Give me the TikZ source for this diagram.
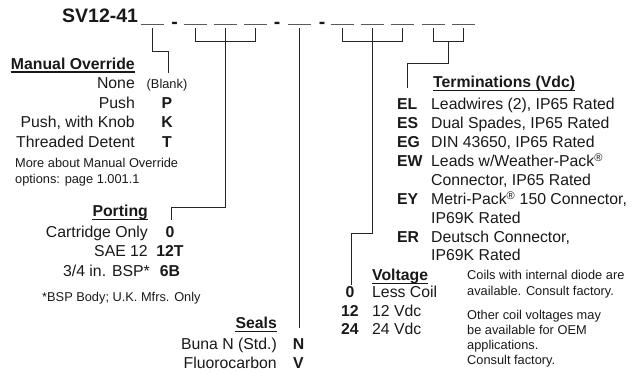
\documentclass[tikz,border=0pt]{standalone}
\usepackage{fontspec}
\setmainfont{Liberation Sans}
\begin{document}
\begin{tikzpicture}[x=1pt,y=-1pt,
  txt/.style={font=\fontsize{15.8}{18}\selectfont, inner sep=0pt, text=black!90},
  bld/.style={font=\bfseries\fontsize{15.8}{18}\selectfont, inner sep=0pt, text=black!90},
  sml/.style={font=\fontsize{12.8}{15}\selectfont, inner sep=0pt, text=black!90},
  ttl/.style={font=\bfseries\fontsize{19.5}{22}\selectfont, inner sep=0pt, text=black!90},
  conn/.style={draw=black!85, line width=1pt},
  blankline/.style={draw=black!65, line width=1pt},
  uline/.style={draw=black!90, line width=1.1pt},
  lft/.style={anchor=base west},
  rgt/.style={anchor=base east},
  ctr/.style={anchor=base}]
\useasboundingbox (0,0) rectangle (633,374);

% --- model code line
\node[ttl,lft] (title) at (62,23) {SV12-41};
\foreach \n/\x in {1/152,2/195,3/225,4/255,5/299,6/342,7/372,8/402,9/433,10/463}{
  \coordinate (b\n) at (\x,25);
  \draw[blankline] ([xshift=-11.5pt]b\n) -- ([xshift=11.5pt]b\n);
}
\node[ttl,ctr] (d1) at (174.5,29) {-};
\node[ttl,ctr] (d2) at (277,29) {-};
\node[ttl,ctr] (d3) at (322,29) {-};

% --- Manual Override
\node[bld,rgt] (mo) at (135,69.5) {Manual Override};
\draw[uline] ([yshift=-2.5pt]mo.base west) -- ([yshift=-2.5pt]mo.base east);
\node[txt,rgt] (mo1) at (135,89) {None};
\node[sml,ctr] (mo1c) at (167,89) {(Blank)};
\node[txt,rgt] (mo2) at (135,108.5) {Push};
\node[bld,ctr] (mo2c) at (167,108.5) {P};
\node[txt,rgt] (mo3) at (135,128) {Push, with Knob};
\node[bld,ctr] (mo3c) at (167,128) {K};
\node[txt,rgt] (mo4) at (135,147.5) {Threaded Detent};
\node[bld,ctr] (mo4c) at (167,147.5) {T};
\node[sml,lft] (mon1) at (15,168) {More about Manual Override};
\node[sml,lft] (mon2) at (15,183.5) {options: page 1.001.1};

\coordinate (mo-knee) at (152,52);
\coordinate (mo-end) at (168,73);
\draw[conn] ([yshift=-3pt]b1) -- (mo-knee) -| (mo-end);

% --- Porting
\node[bld,rgt] (po) at (148,217) {Porting};
\draw[uline] ([yshift=-2.5pt]po.base west) -- ([yshift=-2.5pt]po.base east);
\node[txt,rgt] (po1) at (148,237.5) {Cartridge Only};
\node[bld,ctr] (po1c) at (170,237.5) {0};
\node[txt,rgt] (po2) at (148,257) {SAE 12};
\node[bld,ctr] (po2c) at (170,257) {12T};
\node[txt,rgt] (po3) at (150,276.5) {3/4 in. BSP*};
\node[bld,ctr] (po3c) at (170,276.5) {6B};
\node[sml,lft] (pon) at (42,302) {*BSP Body; U.K. Mfrs. Only};

\draw[conn] ([yshift=-3pt]b2) -- ++(0,14) -| ([yshift=-3pt]b4);
\coordinate (po-knee) at (171,208);
\coordinate (po-end) at (171,220);
\draw[conn] ([yshift=-3pt]b3) -- (b3 |- po-knee) -- (po-knee) -- (po-end);

% --- Seals
\node[bld,rgt] (se) at (277,329) {Seals};
\draw[uline] ([yshift=-2.5pt]se.base west) -- ([yshift=-2.5pt]se.base east);
\node[txt,rgt] (se1) at (277,349.5) {Buna N (Std.)};
\node[bld,ctr] (se1c) at (298.5,349.5) {N};
\node[txt,rgt] (se2) at (277,369) {Fluorocarbon};
\node[bld,ctr] (se2c) at (298.5,369) {V};

\coordinate (se-end) at (299,328);
\draw[conn] ([yshift=-3pt]b5) -- (se-end);

% --- Voltage
\node[bld,lft] (vo) at (372,281) {Voltage};
\draw[uline] ([yshift=-2.5pt]vo.base west) -- ([yshift=-2.5pt]vo.base east);
\node[bld,ctr] (vo1c) at (350,298) {0};
\node[txt,lft] (vo1) at (372,298) {Less Coil};
\node[bld,ctr] (vo2c) at (350,316.5) {12};
\node[txt,lft] (vo2) at (372,316.5) {12 Vdc};
\node[bld,ctr] (vo3c) at (350,335) {24};
\node[txt,lft] (vo3) at (372,335) {24 Vdc};

\node[sml,lft] (n1) at (467,280) {Coils with internal diode are};
\node[sml,lft] (n2) at (467,296) {available. Consult factory.};
\node[sml,lft] (n3) at (467,320) {Other coil voltages may};
\node[sml,lft] (n4) at (467,335) {be available for OEM};
\node[sml,lft] (n5) at (467,350) {applications.};
\node[sml,lft] (n6) at (467,364.5) {Consult factory.};

\draw[conn] ([yshift=-3pt]b6) -- ++(0,14) -| ([yshift=-3pt]b8);
\coordinate (vo-knee) at (351,234);
\coordinate (vo-end) at (351,285);
\draw[conn] ([yshift=-3pt]b7) -- (b7 |- vo-knee) -- (vo-knee) -- (vo-end);

% --- Terminations
\node[bld,lft] (te) at (433,88) {Terminations (Vdc)};
\draw[uline] ([yshift=-2.5pt]te.base west) -- ([yshift=-2.5pt]te.base east);
\node[bld,lft] (t1c) at (397,109.5) {EL};
\node[txt,lft] (t1) at (431,109.5) {Leadwires (2), IP65 Rated};
\node[bld,lft] (t2c) at (397,128.5) {ES};
\node[txt,lft] (t2) at (431,128.5) {Dual Spades, IP65 Rated};
\node[bld,lft] (t3c) at (397,147.5) {EG};
\node[txt,lft] (t3) at (431,147.5) {DIN 43650, IP65 Rated};
\node[bld,lft] (t4c) at (397,166.5) {EW};
\node[txt,lft] (t4) at (431,166.5) {Leads w/Weather-Pack\textsuperscript{\textregistered}};
\node[txt,lft] (t4b) at (431,185.5) {Connector, IP65 Rated};
\node[bld,lft] (t5c) at (397,204.5) {EY};
\node[txt,lft] (t5) at (431,204.5) {Metri-Pack\textsuperscript{\textregistered} 150 Connector,};
\node[txt,lft] (t5b) at (431,223.5) {IP69K Rated};
\node[bld,lft] (t6c) at (397,242.5) {ER};
\node[txt,lft] (t6) at (431,242.5) {Deutsch Connector,};
\node[txt,lft] (t6b) at (431,261) {IP69K Rated};

\draw[conn] ([yshift=-3pt]b9) -- ++(0,14) -| ([yshift=-3pt]b10);
\coordinate (te-mid) at (448,42);
\coordinate (te-knee) at (407,64);
\coordinate (te-end) at (407,88);
\draw[conn] (te-mid) -- (te-mid |- te-knee) -- (te-knee) -- (te-end);
\end{tikzpicture}
\end{document}
